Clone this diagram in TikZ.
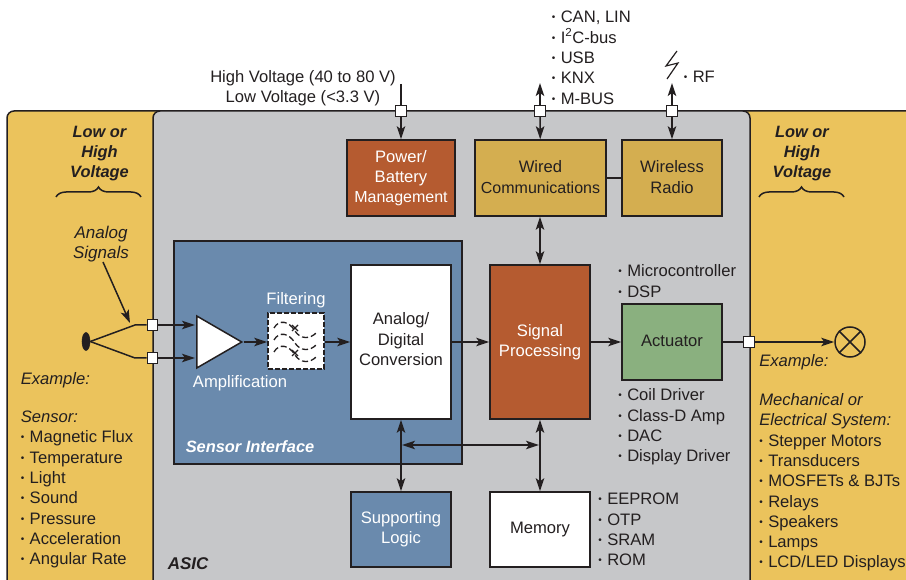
\documentclass[tikz,border=0pt]{standalone}
\usepackage{fontspec}
\setmainfont{Liberation Sans}
\usepackage{tikz}
\usetikzlibrary{arrows.meta,shapes.geometric,decorations.pathreplacing}

\definecolor{inkdark}{HTML}{231F20}
\definecolor{sideyellow}{HTML}{EBC35C}
\definecolor{asicgrey}{HTML}{C6C7C9}
\definecolor{ifaceblue}{HTML}{6A8AAD}
\definecolor{rustbox}{HTML}{B55B30}
\definecolor{goldbox}{HTML}{D4AE50}
\definecolor{greenbox}{HTML}{8AB07F}

\newcommand{\blt}{\makebox[9pt][l]{\raisebox{.12em}{\fontsize{10}{10}\selectfont •}}}
\newcommand{\narrowline}[1]{{\fontsize{16}{20.3}\selectfont #1}}

\begin{document}
\begin{tikzpicture}[
x=1pt, y=-1pt,
font=\fontsize{16.6}{20.3}\selectfont,
line width=1.5pt,
draw=inkdark,
text=inkdark,
blockbox/.style={rectangle, draw=inkdark, line width=1.5pt, align=center, inner sep=0pt},
port/.style={rectangle, draw=inkdark, fill=white, line width=1.4pt, minimum size=10.5pt, inner sep=0pt},
listnode/.style={anchor=north west, align=left, inner sep=0pt},
plainlabel/.style={align=center, inner sep=0pt},
boldlabel/.style={font=\fontsize{16.4}{20.3}\selectfont\bfseries\itshape},
sig/.style={draw=inkdark, -{Stealth[length=13pt,width=8.5pt,inset=3pt]}},
bothsig/.style={draw=inkdark, {Stealth[length=13pt,width=8.5pt,inset=3pt]}-{Stealth[length=13pt,width=8.5pt,inset=3pt]}}
]
\useasboundingbox (0,0) rectangle (906,580);

%Panels
\draw[fill=sideyellow, rounded corners=7pt] (7,590) -- (7,111) -- (920,111) -- (920,590);
\draw[fill=asicgrey, rounded corners=7pt] (153,590) -- (153,111) -- (750,111) -- (750,590);
\draw[fill=ifaceblue] (174,241) rectangle (462,464);

%Braces
\draw[decorate, decoration={brace, amplitude=10pt}] (56,197) -- (141,197);
\draw[decorate, decoration={brace, amplitude=10pt}] (759,197) -- (844,197);

%Blocks
\node[blockbox, fill=rustbox, text=white, minimum width=108pt, minimum height=76pt] (power) at (401,178) {Power/\\Battery\\\narrowline{Management}};
\node[blockbox, fill=goldbox, minimum width=131pt, minimum height=76pt] (wired) at (540.5,178) {Wired\\\narrowline{Communications}\\[-18.3pt]\mbox{}};
\node[blockbox, fill=goldbox, minimum width=100pt, minimum height=76pt] (radio) at (672,178) {Wireless\\Radio\\[-18.3pt]\mbox{}};
\node[blockbox, fill=white, minimum width=100pt, minimum height=154pt] (adc) at (401,342) {Analog/\\Digital\\Conversion\\[-14.3pt]\mbox{}};
\node[blockbox, fill=rustbox, text=white, minimum width=100pt, minimum height=154pt] (dsp) at (540,342) {Signal\\Processing};
\node[blockbox, fill=greenbox, minimum width=100pt, minimum height=76pt] (actuator) at (672,342) {Actuator\\[-18.3pt]\mbox{}};
\node[blockbox, fill=ifaceblue, text=white, minimum width=100pt, minimum height=75pt] (logic) at (401,529.5) {Supporting\\Logic};
\node[blockbox, fill=white, minimum width=100pt, minimum height=75pt] (memory) at (540,529.5) {Memory};
\node[blockbox, fill=white, dash pattern=on 5pt off 2pt, minimum size=56pt] (filter) at (296,341) {};
\node[isosceles triangle, isosceles triangle stretches, draw=inkdark, fill=white, line width=1.5pt, minimum width=52pt, minimum height=45pt, inner sep=0pt, anchor=west] (amp) at (196,342) {};

%Filter curves
\foreach \dy in {0,12,24} {
  \draw[line width=1.3pt, dash pattern=on 6pt off 3pt, yshift=-\dy pt]
    (274,328) .. controls (279,319) and (289,321) .. (295,331)
    .. controls (300,339) and (310,340) .. (317,332);
}
\draw[line width=1.3pt] (292,325) -- (298,331) (298,325) -- (292,331);
\draw[line width=1.3pt] (292,350) -- (298,356) (298,350) -- (292,356);

%Ports
\node[port] (pin1) at (152.5,325) {};
\node[port] (pin2) at (152.5,358) {};
\node[port] (ptop1) at (401,111) {};
\node[port] (ptop2) at (540,111) {};
\node[port] (ptop3) at (672,111) {};
\node[port] (pout) at (749,342) {};

%Sensor and load
\node[ellipse, fill=inkdark, draw=inkdark, line width=0.5pt, minimum width=8pt, minimum height=18pt, inner sep=0pt] (sensor) at (86,341.5) {};
\node[circle, draw=inkdark, line width=1.5pt, minimum size=30pt, inner sep=0pt] (lamp) at (850,342) {};
\draw (lamp.45) -- (lamp.225);
\draw (lamp.135) -- (lamp.315);

%Free ends
\coordinate (hvin) at (401,84);
\coordinate (wiredout) at (540,83);
\coordinate (rfout) at (672,83);
\coordinate (amp1) at (195,325);
\coordinate (amp2) at (195,358);
\coordinate (bend1) at (135,325);
\coordinate (bend2) at (135,358);
\coordinate (busl) at (402,445);
\coordinate (busr) at (539,445);
\coordinate (antip) at (130,323);
\coordinate (analogtail) at (103,262);

%Lines
\draw (sensor.east) -- (bend1) -- (pin1);
\draw (sensor.east) -- (bend2) -- (pin2);
\draw[sig] (analogtail) -- (antip);
\draw[sig] (pin1) -- (amp1);
\draw[sig] (pin2) -- (amp2);
\draw[sig] (amp.east) -- (filter.west |- amp.east);
\draw[sig] (filter.east |- adc.west) -- (adc.west);
\draw[sig] (adc.east) -- (dsp.west);
\draw[sig] (dsp.east) -- (actuator.west);
\draw (actuator.east) -- (pout);
\draw[sig] (pout) -- (lamp);
\draw (hvin) -- (ptop1);
\draw[sig] (ptop1) -- (power);
\draw[sig] (ptop2) -- (wiredout);
\draw[sig] (ptop2) -- (wired);
\draw[sig] (ptop3) -- (rfout);
\draw[sig] (ptop3) -- (radio);
\draw (wired) -- (radio);
\draw[bothsig] (wired.south -| dsp.north) -- (dsp.north);
\draw[bothsig] (adc.south) -- (logic.north);
\draw[bothsig] (dsp.south) -- (memory.north);
\draw[bothsig] (busl) -- (busr);

%Lightning
\draw[line width=1.2pt] (677,51) -- (666,66) -- (678,63) -- (667,79);

%Labels
\node[plainlabel] (hvtext) at (303,88.5) {High Voltage (40 to 80 V)\\Low Voltage (<3.3 V)};
\node[plainlabel, boldlabel] (lowl) at (99.5,153.5) {Low or\\High\\Voltage};
\node[plainlabel, boldlabel] (lowr) at (802,153.5) {Low or\\High\\Voltage};
\node[plainlabel, font=\fontsize{17}{20.3}\selectfont\itshape] (analog) at (101,244) {Analog\\Signals};
\node[plainlabel, text=white] (filtering) at (296,300.5) {Filtering};
\node[plainlabel, text=white] (amplif) at (240,383.5) {Amplification};
\node[listnode, text=white, boldlabel] (ifacetext) at (185,440) {Sensor Interface};
\node[listnode, boldlabel, font=\fontsize{17}{20.3}\selectfont\bfseries\itshape] (asictext) at (167,557) {ASIC};

%Lists
\node[listnode] (buslist) at (551,10.5) {\blt CAN, LIN\\\blt I\textsuperscript{2}C-bus\\\blt USB\\\blt KNX\\\blt M-BUS};
\node[listnode] (rflist) at (683,70.5) {\blt RF};
\node[listnode] (mculist) at (617.5,264) {\blt Microcontroller\\\blt DSP};
\node[listnode] (drvlist) at (617.5,388) {\blt Coil Driver\\\blt Class-D Amp\\\blt DAC\\\blt Display Driver};
\node[listnode] (memlist) at (597.5,492.5) {\blt EEPROM\\\blt OTP\\\blt SRAM\\\blt ROM};
\node[listnode] (senslist) at (20,372) {\textit{Example:}\\[17.5pt]\textit{Sensor:}\\\blt Magnetic Flux\\\blt Temperature\\\blt Light\\\blt Sound\\\blt Pressure\\\blt Acceleration\\\blt Angular Rate};
\node[listnode] (syslist) at (758.5,354) {\textit{Example:}\\[18.5pt]\textit{Mechanical or}\\\textit{Electrical System:}\\\blt Stepper Motors\\\blt Transducers\\\blt MOSFETs \& BJTs\\\blt Relays\\\blt Speakers\\\blt Lamps\\\blt LCD/LED Displays};
\end{tikzpicture}
\end{document}
